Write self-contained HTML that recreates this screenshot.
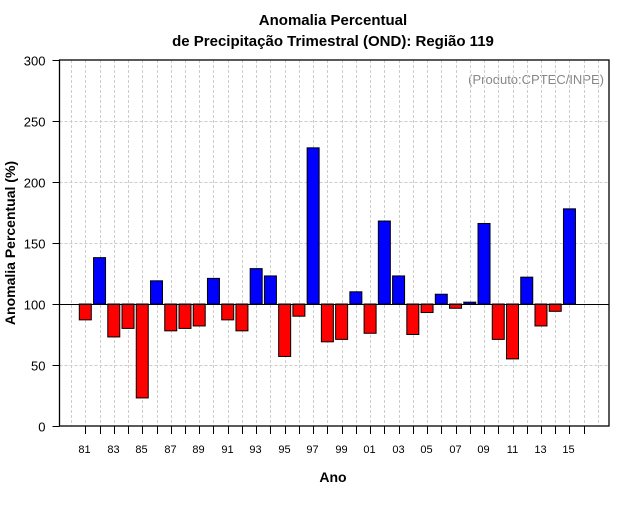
<!DOCTYPE html>
<html><head><meta charset="utf-8"><style>
body{margin:0;background:#fff;}
svg text{font-family:"Liberation Sans",sans-serif;}
</style></head><body>
<svg id="chart" width="640" height="500" xmlns="http://www.w3.org/2000/svg">
<text x="333" y="25" text-anchor="middle" font-size="15" font-weight="bold">Anomalia Percentual</text>
<text x="333" y="46" text-anchor="middle" font-size="15" font-weight="bold">de Precipitação Trimestral (OND): Região 119</text>
<text x="604" y="84" text-anchor="end" font-size="13" fill="#888">(Produto:CPTEC/INPE)</text>
<text x="333" y="482" text-anchor="middle" font-size="14" font-weight="bold">Ano</text>
<text transform="translate(15,243) rotate(-90)" text-anchor="middle" font-size="14" font-weight="bold">Anomalia Percentual (%)</text>
<g id="grid"></g><g id="bars"></g><g id="axes"></g>
</svg>
<script>
const years=[1981,1982,1983,1984,1985,1986,1987,1988,1989,1990,1991,1992,1993,1994,1995,1996,1997,1998,1999,2000,2001,2002,2003,2004,2005,2006,2007,2008,2009,2010,2011,2012,2013,2014,2015];
const values=[87,138,73,80,23,119,78,80,82,121,87,78,129,123,57,90,228,69,71,110,76,168,123,75,93,108,96.5,101.5,166,71,55,122,82,94,178];
const yTicks=[0,50,100,150,200,250,300];
const xTickYears=[1981,1982,1983,1984,1985,1986,1987,1988,1989,1990,1991,1992,1993,1994,1995,1996,1997,1998,1999,2000,2001,2002,2003,2004,2005,2006,2007,2008,2009,2010,2011,2012,2013,2014,2015,2016];
const NS="http://www.w3.org/2000/svg";
const L=59.5,R=609,T=60,B=426;
const x=yr=>85.3+(yr-1981)*14.24;
const y=v=>B-(v/300)*(B-T);
function mk(tag,attrs,parent){const e=document.createElementNS(NS,tag);for(const k in attrs)e.setAttribute(k,attrs[k]);parent.appendChild(e);return e;}
const grid=document.getElementById('grid'),bars=document.getElementById('bars'),axes=document.getElementById('axes');
for(let yr=1980;yr<=2018;yr++){const gx=Math.round(x(yr))+0.5;if(gx<=L||gx>=R)continue;
 const g=mk('line',{x1:gx,x2:gx,y1:T,y2:B,stroke:'#ccc','stroke-dasharray':'3,2'},grid);
 
 }
yTicks.forEach(v=>{const gy=Math.round(y(v))+0.5;
 if(v>0&&v<300){const g=mk('line',{x1:L,x2:R,y1:gy,y2:gy,stroke:'#ccc','stroke-dasharray':'3,2'},grid);
 
 }
 const t=mk('line',{x1:L-7,x2:L,y1:gy,y2:gy,stroke:'#000'},axes);
 
 
 const lb=mk('text',{x:L-14,y:gy+5,'text-anchor':'end','font-size':'13'},axes);lb.textContent=v;
 
 });
years.forEach((yr,i)=>{const v=values[i];const cx=x(yr);const y0=y(100),y1=y(v);
 const r=mk('rect',{x:cx-6,y:Math.min(y0,y1),width:12,height:Math.max(1,Math.abs(y1-y0)),fill:v>=100?'#0000ff':'#ff0000',stroke:'#000','stroke-width':1},bars);
 
 });
const bl=mk('line',{x1:L,x2:R,y1:Math.round(y(100))+0.5,y2:Math.round(y(100))+0.5,stroke:'#000'},axes);


const fr=mk('rect',{x:L,y:T,width:R-L,height:B-T,fill:'none',stroke:'#000','stroke-width':1.3},axes);


xTickYears.forEach((yr,i)=>{const tx=Math.round(x(yr))+0.5;
 const t=mk('line',{x1:tx,x2:tx,y1:B,y2:B+8,stroke:'#000'},axes);
 
 
 if(i%2===0&&yr<=2015){const lb=mk('text',{x:tx-1,y:453,'text-anchor':'middle','font-size':'11'},axes);lb.textContent=String(yr%100).padStart(2,'0');
 
 }});
</script>
</body></html>
